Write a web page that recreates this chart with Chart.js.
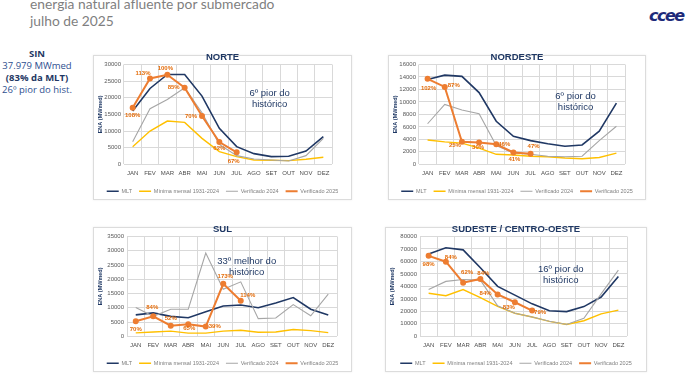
<!DOCTYPE html>
<html lang="pt-BR">
<head>
<meta charset="UTF-8">
<title>Energia natural afluente por submercado</title>
<script src="https://cdn.jsdelivr.net/npm/chart.js"></script>
<style>
    body {
        margin: 0;
        width: 694px;
        height: 382px;
        background: #ffffff;
        position: relative;
        overflow: hidden;
        font-family: "Liberation Sans", Arial, sans-serif;
    }
    .head {
        position: absolute;
        left: 30px;
        top: -5px;
        color: #7f7f7f;
        font-family: Lato, sans-serif;
        font-size: 13.8px;
        line-height: 17px;
    }
    .logo {
        position: absolute;
        left: 649px;
        top: 6px;
        color: #1d2a7a;
        font-family: "DejaVu Sans", sans-serif;
        font-weight: bold;
        font-style: italic;
        font-size: 16px;
        letter-spacing: -1.5px;
    }
    .sin {
        position: absolute;
        left: 0;
        top: 48px;
        width: 74px;
        text-align: center;
        color: #1f3864;
        font-family: "Open Sans", sans-serif;
        font-size: 9.5px;
        line-height: 12px;
        white-space: nowrap;
    }
    .sin .lt { color: #2e4f8f; }
    .box {
        position: absolute;
        border: 1px solid #dcdcdc;
        box-shadow: 0 0 2px rgba(0, 0, 0, 0.08);
        background: #ffffff;
    }
    .box .wrap {
        position: absolute;
        left: 0;
        top: -3px;
        width: 100%;
        height: calc(100% + 3px);
    }
</style>
</head>
<body>

<div class="head">energia natural afluente por submercado<br>julho de 2025</div>
<div class="logo">ccee</div>
<div class="sin"><b>SIN</b><br><span class="lt">37.979 MWmed</span><br><b>(83% da MLT)</b><br><span class="lt">26º pior do hist.</span></div>

<div class="box" style="left:93px; top:55px; width:257px; height:143px;"><div class="wrap"><canvas id="norte"></canvas></div></div>
<div class="box" style="left:388px; top:55px; width:256px; height:143px;"><div class="wrap"><canvas id="nordeste"></canvas></div></div>
<div class="box" style="left:93px; top:227px; width:257px; height:143px;"><div class="wrap"><canvas id="sul"></canvas></div></div>
<div class="box" style="left:385px; top:227px; width:260px; height:143px;"><div class="wrap"><canvas id="sudeste"></canvas></div></div>

<script>
    const months = ['JAN', 'FEV', 'MAR', 'ABR', 'MAI', 'JUN', 'JUL', 'AGO', 'SET', 'OUT', 'NOV', 'DEZ'];
    const seriesNames = ['MLT', 'Mínima mensal 1931-2024', 'Verificado 2024', 'Verificado 2025'];

    // NORTE
    const norteMlt  = [16000, 22800, 27000, 27000, 20500, 10800, 5300, 3200, 2300, 2400, 4000, 8300];
    const norteMin  = [5300, 10000, 13000, 12600, 7800, 3800, 2300, 1300, 1200, 1100, 1500, 2100];
    const norte2024 = [6800, 16700, 19500, 23000, 15500, 6000, 2600, 1600, 1300, 1000, 2600, 7800];
    const norte2025 = [17000, 25800, 26900, 23000, 14500, 6700, 3600];
    const nortePct  = [108, 113, 100, 85, 70, 62, 67];

    // NORDESTE
    const nordesteMlt  = [13600, 14300, 14100, 11500, 6900, 4500, 3800, 3300, 2900, 3100, 5300, 9800];
    const nordesteMin  = [3900, 3600, 3400, 2600, 1600, 1500, 1300, 1200, 1000, 900, 1100, 1800];
    const nordeste2024 = [6500, 9600, 8700, 8100, 3000, 1800, 1600, 1300, 1200, 1300, 3800, 6100];
    const nordeste2025 = [13700, 12400, 3600, 3500, 3200, 1900, 1700];
    const nordestePct  = [102, 87, 25, 30, 46, 41, 47];

    // SUL
    const sulMlt  = [7500, 8200, 7000, 6500, 8600, 10600, 11000, 10000, 11700, 13600, 9500, 7500];
    const sulMin  = [1200, 1500, 1800, 1100, 1100, 1800, 2100, 1400, 1500, 2400, 2000, 1300];
    const sul2024 = [10100, 7000, 9500, 9500, 29200, 16500, 19100, 6200, 6400, 11100, 7200, 14800];
    const sul2025 = [5300, 7000, 3700, 4200, 3400, 18400, 12500];
    const sulPct  = [70, 84, 52, 65, 39, 173, 114];

    // SUDESTE / CENTRO-OESTE
    const sudesteMlt  = [66000, 71000, 69300, 55000, 40000, 33000, 26000, 20500, 19800, 23800, 31500, 48000];
    const sudesteMin  = [34500, 32500, 37500, 31000, 24000, 18500, 15500, 12000, 9500, 12500, 18000, 21000];
    const sudeste2024 = [37500, 44000, 45500, 45000, 24500, 18500, 15500, 12000, 9500, 14500, 34000, 53000];
    const sudeste2025 = [64500, 59800, 43000, 46000, 33500, 27300, 20600];
    const sudestePct  = [98, 84, 62, 84, 84, 83, 79];

    const colors = ['#203864', '#ffc000', '#a6a6a6', '#ed7d31'];
    const widths = [1.6, 1.4, 1.1, 2];
    const font = '"Liberation Sans", Arial';

    // draws the % of MLT next to each 2025 point and the ranking note
    const notesPlugin = {
        id: 'notes',
        afterDatasetsDraw(chart, args, opts) {
            const ctx = chart.ctx;
            const meta = chart.getDatasetMeta(3);
            ctx.save();
            ctx.textAlign = 'center';
            ctx.textBaseline = 'middle';
            ctx.font = 'bold 6px ' + font;
            ctx.fillStyle = '#e46c0a';
            opts.pct.forEach((v, i) => {
                const p = meta.data[i];
                const o = opts.offsets[i];
                ctx.fillText(v + '%', p.x + o[0], p.y + o[1]);
            });
            const a = chart.chartArea;
            ctx.font = '9.5px ' + font;
            ctx.fillStyle = '#1f3864';
            opts.note.forEach((line, k) => {
                ctx.fillText(line, a.left + a.width * opts.noteAt[0], a.top + a.height * opts.noteAt[1] + k * 11);
            });
            ctx.restore();
        }
    };

    function makeChart(id, title, series, maxY, step, pct, offsets, note, noteAt, leftW, rightW) {
        const datasets = series.map((values, i) => ({
            label: seriesNames[i],
            data: values,
            borderColor: colors[i],
            backgroundColor: colors[i],
            borderWidth: widths[i],
            pointRadius: i === 3 ? 2 : 0,
            pointStyle: 'circle',
            tension: 0,
            order: 3 - i
        }));
        new Chart(document.getElementById(id), {
            type: 'line',
            data: { labels: months, datasets: datasets },
            options: {
                responsive: true,
                maintainAspectRatio: false,
                animation: false,
                layout: { padding: { left: 2, right: 2, top: 0, bottom: -5 } },
                plugins: {
                    title: {
                        display: true,
                        text: title,
                        color: '#1f3864',
                        font: { family: font, size: 9.5, weight: 'bold', lineHeight: 1 },
                        padding: { top: 0, bottom: 2 }
                    },
                    legend: {
                        position: 'bottom',
                        labels: {
                            sort: (a, b) => a.datasetIndex - b.datasetIndex,
                            color: '#7f7f7f',
                            font: { family: font, size: 5.5 },
                            usePointStyle: true,
                            pointStyle: 'line',
                            pointStyleWidth: 12,
                            boxHeight: 5,
                            padding: 7
                        }
                    },
                    tooltip: { enabled: false },
                    notes: { pct: pct, offsets: offsets, note: note, noteAt: noteAt }
                },
                scales: {
                    x: {
                        offset: true,
                        grid: { offset: true, color: '#d9d9d9', drawTicks: false },
                        border: { display: false },
                        ticks: { color: '#4d4d4d', font: { family: font, size: 6 }, padding: 5, maxRotation: 0 }
                    },
                    y: {
                        min: 0,
                        max: maxY,
                        afterFit: s => { s.width = leftW; },
                        ticks: {
                            stepSize: step,
                            color: '#595959',
                            font: { family: font, size: 6 },
                            padding: 3,
                            callback: v => String(v)
                        },
                        grid: { color: '#d9d9d9', drawTicks: false },
                        border: { display: false },
                        title: {
                            display: true,
                            text: 'ENA (MWmed)',
                            color: '#1f3864',
                            font: { family: font, size: 5.5, weight: 'bold' },
                            padding: 1
                        }
                    },
                    yr: {
                        position: 'right',
                        afterFit: s => { s.width = rightW; },
                        grid: { display: false },
                        border: { display: false },
                        ticks: { display: false }
                    }
                }
            },
            plugins: [notesPlugin]
        });
    }

    makeChart('norte', 'NORTE', [norteMlt, norteMin, norte2024, norte2025], 30000, 5000, nortePct,
        [[0, 8], [-7, -5], [-2, -6], [-11, 0], [-11, 0], [0, 6], [-3, 9]],
        ['6º pior do', 'histórico'], [0.70, 0.29], 28, 17);

    makeChart('nordeste', 'NORDESTE', [nordesteMlt, nordesteMin, nordeste2024, nordeste2025], 16000, 2000, nordestePct,
        [[1, 9], [9, -2], [-7, 3], [-1, 5], [8, 0], [1, 7], [3, -7]],
        ['6º pior do', 'histórico'], [0.76, 0.32], 28, 18);

    makeChart('sul', 'SUL', [sulMlt, sulMin, sul2024, sul2025], 35000, 5000, sulPct,
        [[0, 8], [-1, -9], [0, -7], [1, 4], [9, 0], [2, -7], [7, -5]],
        ['33º melhor do', 'histórico'], [0.57, 0.25], 31, 12);

    makeChart('sudeste', 'SUDESTE / CENTRO-OESTE', [sudesteMlt, sudesteMin, sudeste2024, sudeste2025], 80000, 10000, sudestePct,
        [[0, 9], [5, -4], [4, -10], [3, -6], [-12, -1], [-6, 5], [8, 2]],
        ['16º pior do', 'histórico'], [0.68, 0.33], 32, 17);
</script>

</body>
</html>
